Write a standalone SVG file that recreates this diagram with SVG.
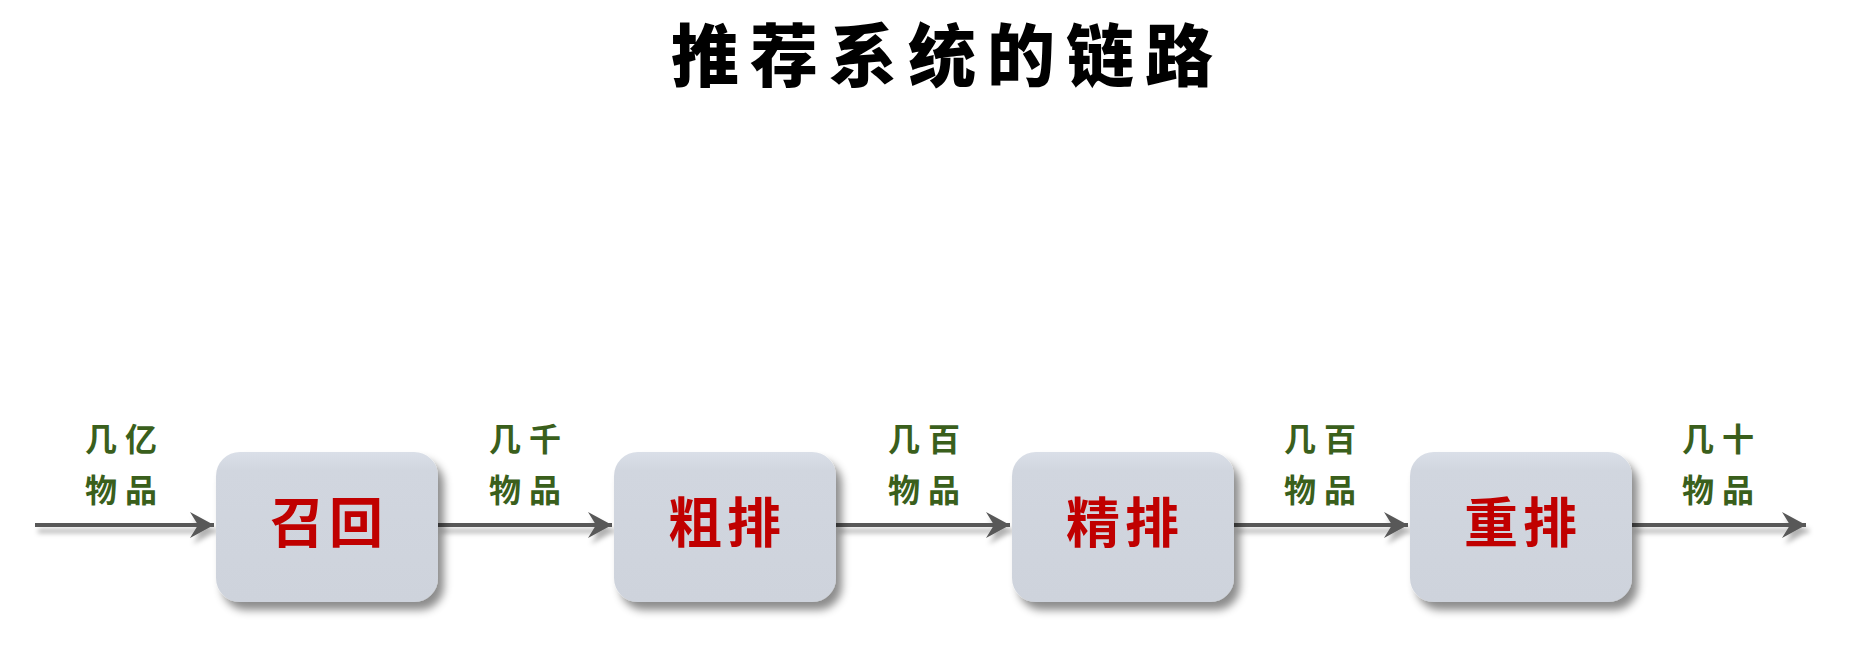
<svg xmlns="http://www.w3.org/2000/svg" width="1854" height="666" viewBox="0 0 1854 666">
  <defs>
    <style>
      .title { font-family: "Noto Sans CJK SC", "Noto Sans", sans-serif; font-size: 68px; font-weight: 900; fill: #000000; letter-spacing: 11px; }
      .node-label { font-family: "Noto Sans CJK SC", "Noto Sans", sans-serif; font-size: 54px; font-weight: 700; fill: #c00000; letter-spacing: 5px; }
      .qty { font-family: "Noto Sans CJK SC", "Noto Sans", sans-serif; font-size: 32px; font-weight: 700; fill: #3a5f1c; letter-spacing: 8px; }
      .box { fill: url(#boxGrad); filter: url(#boxShadow); }
      .conn { stroke: #595959; stroke-width: 4; fill: none; marker-end: url(#arrow); }
    </style>
    <linearGradient id="boxGrad" x1="0" y1="0" x2="0" y2="1">
      <stop offset="0" stop-color="#dadfe8"/>
      <stop offset="0.12" stop-color="#d1d6df"/>
      <stop offset="1" stop-color="#ced3dc"/>
    </linearGradient>
    <filter id="boxShadow" x="-20%" y="-20%" width="150%" height="150%">
      <feDropShadow dx="6" dy="8" stdDeviation="4" flood-color="#000000" flood-opacity="0.45"/>
    </filter>
    <filter id="lineShadow" filterUnits="userSpaceOnUse" x="0" y="480" width="1854" height="100">
      <feDropShadow dx="3" dy="6" stdDeviation="2.5" flood-color="#000000" flood-opacity="0.3"/>
    </filter>
    <marker id="arrow" markerUnits="userSpaceOnUse" markerWidth="26" markerHeight="28" refX="24" refY="13" orient="auto">
      <path d="M24,13 L0,0 L8,13 L0,26 Z" fill="#595959"/>
    </marker>
  </defs>

  <rect width="1854" height="666" fill="#ffffff"/>

  <text class="title" x="671" y="81">推荐系统的链路</text>

  <g id="connectors" filter="url(#lineShadow)">
    <path class="conn" d="M35,525 H214"/>
    <path class="conn" d="M438,525 H612"/>
    <path class="conn" d="M836,525 H1010"/>
    <path class="conn" d="M1234,525 H1408"/>
    <path class="conn" d="M1632,525 H1806"/>
  </g>

  <g id="node-recall">
    <rect class="box" x="216" y="452" width="222" height="150" rx="24" ry="24"/>
    <text class="node-label" x="270" y="543">召回</text>
  </g>
  <g id="node-prerank">
    <rect class="box" x="614" y="452" width="222" height="150" rx="24" ry="24"/>
    <text class="node-label" x="668" y="543">粗排</text>
  </g>
  <g id="node-rank">
    <rect class="box" x="1012" y="452" width="222" height="150" rx="24" ry="24"/>
    <text class="node-label" x="1066" y="543">精排</text>
  </g>
  <g id="node-rerank">
    <rect class="box" x="1410" y="452" width="222" height="150" rx="24" ry="24"/>
    <text class="node-label" x="1464" y="543">重排</text>
  </g>

  <g id="quantity-labels">
    <text class="qty" x="85" y="451">几亿</text>
    <text class="qty" x="85" y="502">物品</text>
    <text class="qty" x="489" y="451">几千</text>
    <text class="qty" x="489" y="502">物品</text>
    <text class="qty" x="888" y="451">几百</text>
    <text class="qty" x="888" y="502">物品</text>
    <text class="qty" x="1284" y="451">几百</text>
    <text class="qty" x="1284" y="502">物品</text>
    <text class="qty" x="1682" y="451">几十</text>
    <text class="qty" x="1682" y="502">物品</text>
  </g>
</svg>
